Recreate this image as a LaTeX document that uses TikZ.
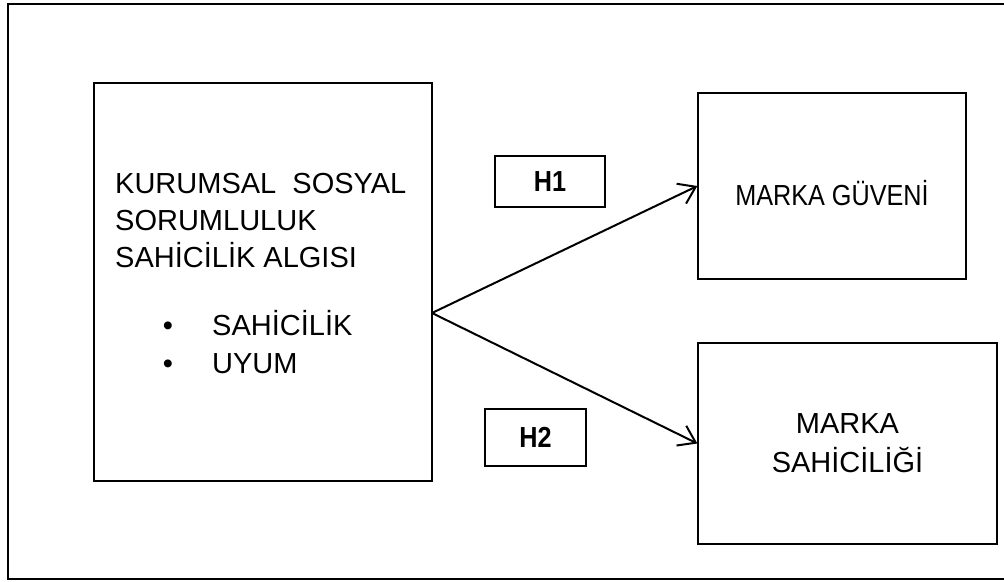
\documentclass[tikz,border=0pt]{standalone}
\usepackage{fontspec}
\setmainfont{Liberation Sans}
\newfontfamily\darfont{Liberation Sans}[FakeStretch=0.87]
\usetikzlibrary{arrows.meta}
\tikzset{
	kutu/.style={draw, rectangle, line width=1.3pt, inner sep=0pt},
	yazi/.style={font=\fontsize{29}{39}\selectfont, inner sep=0pt},
	daryazi/.style={font=\darfont\fontsize{29}{39}\selectfont, inner sep=0pt},
	ok/.style={-{Straight Barb[length=16pt,width=22pt]}, line width=2pt},
}
\begin{document}
\begin{tikzpicture}[x=1pt, y=-1pt]
			\useasboundingbox (0,0) rectangle (1004,581);
			\draw[line width=1.5pt] (1004,4) -- (8,4) -- (8,579) -- (1004,579);

			% sol kutu
			\draw (263,282) node (ksr) [kutu, minimum width=338, minimum height=398] {};
			\draw (115,193) node (satir1) [yazi, anchor=base west] {KURUMSAL\ \ SOSYAL};
			\draw (115,230) node (satir2) [yazi, anchor=base west] {SORUMLULUK};
			\draw (115,267) node (satir3) [yazi, anchor=base west] {SAHİCİLİK ALGISI};
			\draw (168,335) node (nokta1) [yazi, anchor=base] {•};
			\draw (212,335) node (madde1) [yazi, anchor=base west] {SAHİCİLİK};
			\draw (168,373) node (nokta2) [yazi, anchor=base] {•};
			\draw (212,373) node (madde2) [yazi, anchor=base west] {UYUM};

			% hipotezler
			\draw (550,181.5) node (h1) [kutu, daryazi, minimum width=110, minimum height=51] {\textbf{H1}};
			\draw (535.5,437.5) node (h2) [kutu, daryazi, minimum width=101, minimum height=57] {\textbf{H2}};

			% sag kutular
			\draw (832,186) node (guven) [kutu, minimum width=268, minimum height=186] {};
			\draw (832,205) node (guvenyazi) [daryazi, anchor=base] {MARKA GÜVENİ};
			\draw (847.5,443.5) node (sahic) [kutu, yazi, align=center, minimum width=299, minimum height=201] {MARKA\\SAHİCİLİĞİ};

			\coordinate (catal) at (432,313);
			\draw[ok] (catal) -- (guven.west);
			\draw[ok] (catal) -- (sahic.west);
\end{tikzpicture}
\end{document}
